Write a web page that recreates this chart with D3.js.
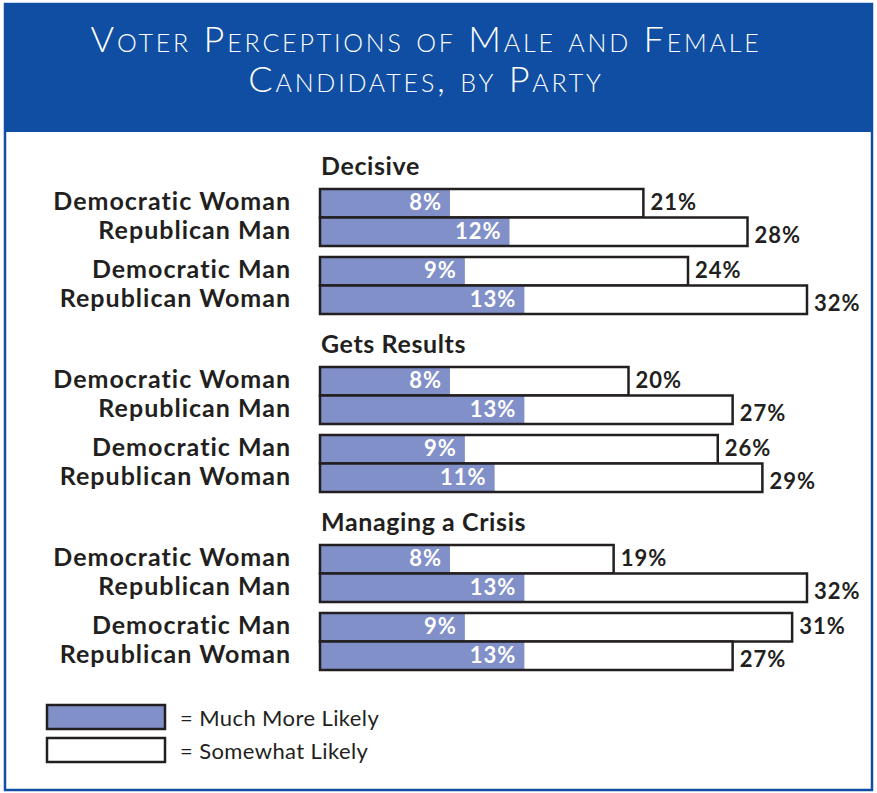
<!DOCTYPE html>
<html>
<head>
<meta charset="utf-8">
<script src="https://cdn.jsdelivr.net/npm/d3@7"></script>
<style>
  body { margin: 0; background: #fff; }
  text { font-family: Lato, "Open Sans", sans-serif; }
</style>
</head>
<body>
<div id="chart"></div>
<script>
// data
var groups = ["Decisive", "Gets Results", "Managing a Crisis"];
var candidates = ["Democratic Woman", "Republican Man", "Democratic Man", "Republican Woman"];
var muchMore = [[8, 12, 9, 13], [8, 13, 9, 11], [8, 13, 9, 13]];
var somewhat = [[21, 28, 24, 32], [20, 27, 26, 29], [19, 32, 31, 27]];
var titleLines = ["Voter Perceptions of Male and Female", "Candidates, by Party"];
var legendLabels = ["= Much More Likely", "= Somewhat Likely"];

var svgWidth = 877, svgHeight = 793;
var blue = "#0f4ea2", barFill = "#8190c8", ink = "#231f20";

var svg = d3.select("#chart")
  .append("svg")
  .attr("width", svgWidth)
  .attr("height", svgHeight);

// frame + title band
svg.append("rect")
  .attr("x", 5).attr("y", 4)
  .attr("width", 867).attr("height", 786)
  .attr("fill", "none").attr("stroke", blue).attr("stroke-width", 2.5);

svg.append("rect")
  .attr("x", 5).attr("y", 4)
  .attr("width", 867).attr("height", 128)
  .attr("fill", blue);

svg.selectAll(".title")
  .data(titleLines)
  .enter().append("text")
  .attr("class", "title")
  .attr("x", 426)
  .attr("y", (d, i) => 52 + i * 40)
  .attr("text-anchor", "middle")
  .attr("fill", "#fff")
  .style("font-size", "36px")
  .style("font-weight", 300)
  .style("font-variant", "small-caps")
  .style("letter-spacing", "2.8px")
  .text(d => d);

// scales
var barLeft = 320;
var x = d3.scaleLinear().domain([0, 32]).range([barLeft + 11, 807]);
var yGroup = d3.scaleBand().domain(groups).range([150, 684]);
var barH = 28.5;
function rowY(i) { return Math.floor(i / 2) * 68 + (i % 2) * barH; }

// flatten rows
var rows = [];
groups.forEach(function(g, gi) {
  candidates.forEach(function(c, ci) {
    rows.push({group: g, cand: c, i: ci, much: muchMore[gi][ci], some: somewhat[gi][ci]});
  });
});

var gGroups = svg.selectAll(".grp")
  .data(groups)
  .enter().append("g")
  .attr("class", "grp")
  .attr("transform", d => "translate(0," + yGroup(d) + ")");

gGroups.append("text")
  .attr("x", 321).attr("y", 25)
  .attr("fill", ink)
  .style("font-size", "25px")
  .style("font-weight", 700)
  .style("letter-spacing", "0.6px")
  .text(d => d);

var row = gGroups.selectAll(".row")
  .data(d => rows.filter(r => r.group === d))
  .enter().append("g")
  .attr("class", "row")
  .attr("transform", d => "translate(0," + (39 + rowY(d.i)) + ")");

row.append("rect")
  .attr("x", barLeft).attr("y", 0)
  .attr("width", d => x(d.some) - barLeft)
  .attr("height", barH)
  .attr("fill", "#fff");

row.append("rect")
  .attr("x", barLeft).attr("y", 0)
  .attr("width", d => x(d.much) - barLeft)
  .attr("height", barH)
  .attr("fill", barFill);

row.append("rect")
  .attr("x", barLeft).attr("y", 0)
  .attr("width", d => x(d.some) - barLeft)
  .attr("height", barH)
  .attr("fill", "none")
  .attr("stroke", ink)
  .attr("stroke-width", 2.5);

row.append("text")
  .attr("x", d => x(d.much) - 8)
  .attr("y", 21)
  .attr("text-anchor", "end")
  .attr("fill", "#fff")
  .style("font-size", "22px")
  .style("font-weight", 700)
  .style("letter-spacing", "1px")
  .text(d => d.much + "%");

row.append("text")
  .attr("x", d => x(d.some) + 7)
  .attr("y", d => d.i % 2 === 0 ? 21 : 25)
  .attr("fill", ink)
  .style("font-size", "22px")
  .style("font-weight", 700)
  .style("letter-spacing", "1px")
  .text(d => d.some + "%");

row.append("text")
  .attr("x", 291)
  .attr("y", 21)
  .attr("text-anchor", "end")
  .attr("fill", ink)
  .style("font-size", "25px")
  .style("font-weight", 700)
  .style("letter-spacing", "1px")
  .text(d => d.cand);

// legend
var legend = svg.selectAll(".legend")
  .data(legendLabels)
  .enter().append("g")
  .attr("class", "legend")
  .attr("transform", (d, i) => "translate(47," + (705 + i * 33) + ")");

legend.append("rect")
  .attr("width", 118).attr("height", 24)
  .attr("fill", (d, i) => i === 0 ? barFill : "#fff")
  .attr("stroke", ink).attr("stroke-width", 2.5);

legend.append("text")
  .attr("x", 133).attr("y", 21)
  .attr("fill", ink)
  .style("font-size", "22px")
  .style("letter-spacing", "0.4px")
  .text(d => d);
</script>
</body>
</html>
